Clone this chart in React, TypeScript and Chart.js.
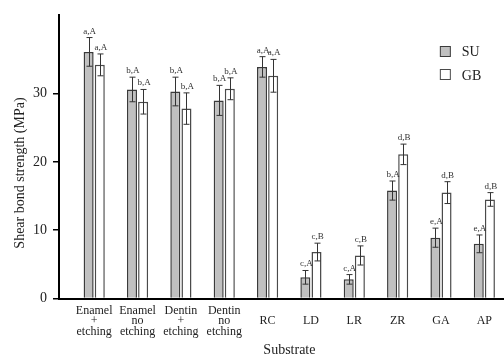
import React, { useEffect, useRef } from "react";
import { Chart, registerables } from "chart.js";

Chart.register(...registerables);

const categories: (string | string[])[] = [
  ["Enamel", "+", "etching"],
  ["Enamel", "no", "etching"],
  ["Dentin", "+", "etching"],
  ["Dentin", "no", "etching"],
  "RC",
  "LD",
  "LR",
  "ZR",
  "GA",
  "AP",
];
const suMeans = [36.1, 30.6, 30.3, 29.0, 33.9, 3.1, 2.8, 15.8, 8.9, 8.0];
const suSD = [2.1, 1.8, 2.1, 2.2, 1.5, 1.0, 0.7, 1.4, 1.4, 1.3];
const gbMeans = [34.2, 28.8, 27.8, 30.7, 32.6, 6.8, 6.3, 21.1, 15.5, 14.5];
const gbSD = [1.6, 1.8, 2.3, 1.6, 2.4, 1.3, 1.4, 1.5, 1.6, 1.0];
const suLetters = ["a,A", "b,A", "b,A", "b,A", "a,A", "c,A", "c,A", "b,A", "e,A", "e,A"];
const gbLetters = ["a,A", "b,A", "b,A", "b,A", "a,A", "c,B", "c,B", "d,B", "d,B", "d,B"];
const yTicks = [0, 10, 20, 30];
const seriesNames = ["SU", "GB"];
const yTitle = "Shear bond strength (MPa)";
const xTitle = "Substrate";

const FONT = "'Liberation Serif', 'Times New Roman', serif";
const SU_FILL = "#c0c0c0";
const SU_BORDER = "#3a3a3a";
const GB_FILL = "#ffffff";
const GB_BORDER = "#4a4a4a";

const sds = [suSD, gbSD];
const letters = [suLetters, gbLetters];

const overlayPlugin = {
  id: "overlay",
  afterDatasetsDraw(chart: any) {
    const ctx = chart.ctx;
    const yScale = chart.scales.y;
    ctx.save();
    chart.data.datasets.forEach((ds: any, d: number) => {
      const meta = chart.getDatasetMeta(d);
      meta.data.forEach((el: any, i: number) => {
        const mean = ds.data[i].y;
        const sd = sds[d][i];
        const yTop = yScale.getPixelForValue(mean + sd);
        const yBot = yScale.getPixelForValue(mean - sd);
        const x = Math.round(el.x) + 0.5;
        ctx.strokeStyle = "#333";
        ctx.lineWidth = 1;
        ctx.beginPath();
        ctx.moveTo(x, yTop);
        ctx.lineTo(x, yBot);
        ctx.moveTo(x - 3, yTop);
        ctx.lineTo(x + 3, yTop);
        ctx.moveTo(x - 3, yBot);
        ctx.lineTo(x + 3, yBot);
        ctx.stroke();
        ctx.fillStyle = "#333";
        ctx.font = `9px ${FONT}`;
        ctx.textAlign = "center";
        ctx.textBaseline = "alphabetic";
        ctx.fillText(letters[d][i], el.x + 1, yTop - 4);
      });
    });
    ctx.restore();
  },
  afterDraw(chart: any) {
    const ctx = chart.ctx;
    const area = chart.chartArea;
    ctx.save();
    ctx.fillStyle = "#222";
    ctx.font = `14px ${FONT}`;
    ctx.textAlign = "center";
    ctx.textBaseline = "middle";
    ctx.save();
    ctx.translate(20, area.top + 158);
    ctx.rotate(-Math.PI / 2);
    ctx.fillText(yTitle, 0, 0);
    ctx.restore();
    ctx.fillText(xTitle, (area.left + area.right) / 2 + 8, chart.height - 5);
    const fills = [SU_FILL, GB_FILL];
    const borders = [SU_BORDER, GB_BORDER];
    seriesNames.forEach((name, k) => {
      const bx = area.right - 63.5;
      const by = area.top + 31.5 + k * 23;
      ctx.fillStyle = fills[k];
      ctx.fillRect(bx, by, 10, 10);
      ctx.strokeStyle = borders[k];
      ctx.lineWidth = 1;
      ctx.strokeRect(bx, by, 10, 10);
      ctx.fillStyle = "#222";
      ctx.font = `14px ${FONT}`;
      ctx.textAlign = "left";
      ctx.textBaseline = "middle";
      ctx.fillText(name, bx + 21.5, by + 5.5 + k * 1.5);
    });
    ctx.restore();
  },
};

export default function App() {
  const canvasRef = useRef<HTMLCanvasElement | null>(null);

  useEffect(() => {
    if (!canvasRef.current) return;
    const chart = new Chart(canvasRef.current, {
      type: "bar",
      data: {
        datasets: [
          {
            label: seriesNames[0],
            data: suMeans.map((y, i) => ({ x: i, y })),
            backgroundColor: SU_FILL,
            borderColor: SU_BORDER,
            borderWidth: 1.5,
          },
          {
            label: seriesNames[1],
            data: gbMeans.map((y, i) => ({ x: i, y })),
            backgroundColor: GB_FILL,
            borderColor: GB_BORDER,
            borderWidth: 1.5,
          },
        ],
      },
      options: {
        responsive: false,
        animation: false,
        devicePixelRatio: 1,
        layout: { padding: { top: 15, left: 0, right: 0, bottom: 0 } },
        datasets: {
          bar: { categoryPercentage: 0.514, barPercentage: 0.9 },
        },
        plugins: {
          legend: { display: false },
          tooltip: { enabled: false },
        },
        scales: {
          x: {
            type: "linear",
            min: -0.812,
            max: 9.45,
            offset: false,
            z: 1,
            grid: { display: false, drawTicks: false, offset: false },
            border: { display: true, color: "#000", width: 2 },
            afterBuildTicks: (scale: any) => {
              scale.ticks = categories.map((_, i) => ({ value: i }));
            },
            afterFit: (scale: any) => {
              scale.height = 56.5;
            },
            ticks: {
              autoSkip: false,
              maxRotation: 0,
              minRotation: 0,
              crossAlign: "center",
              padding: 12,
              color: "#222",
              font: { family: FONT, size: 12, lineHeight: 0.875 },
              callback: (v: any) => categories[v as number] as any,
            },
          },
          y: {
            type: "linear",
            min: 0,
            max: 41.5,
            z: 1,
            grid: {
              display: true,
              drawOnChartArea: false,
              drawTicks: true,
              tickLength: 6,
              tickColor: "#000",
              lineWidth: 1.5,
            },
            border: { display: true, color: "#000", width: 2 },
            afterBuildTicks: (scale: any) => {
              scale.ticks = yTicks.map((v) => ({ value: v }));
            },
            afterFit: (scale: any) => {
              scale.width = 59;
            },
            ticks: {
              padding: 6,
              color: "#222",
              font: { family: FONT, size: 14 },
            },
          },
        },
      },
      plugins: [overlayPlugin],
    } as any);
    return () => chart.destroy();
  }, []);

  return (
    <div style={{ position: "fixed", left: 0, top: 0, width: 504, height: 355, background: "#fff" }}>
      <canvas ref={canvasRef} width={504} height={355} style={{ width: 504, height: 355, display: "block" }} />
    </div>
  );
}
